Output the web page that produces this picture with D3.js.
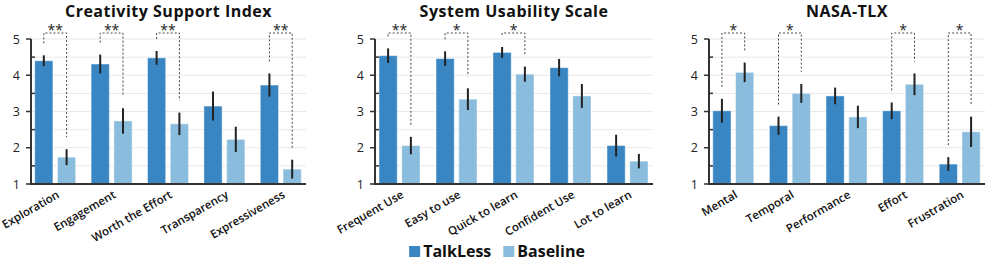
<!DOCTYPE html>
<html>
<head>
<meta charset="utf-8">
<script src="https://cdn.jsdelivr.net/npm/d3@7"></script>
<style>
  body { margin: 0; background: #fff; }
  text { font-family: "Open Sans", "Noto Sans", sans-serif; }
</style>
</head>
<body>
<script>
var
  series = ['TalkLess', 'Baseline'],
  colors = ['#3a86c3', '#8abcdd'],
  yTicks = [1, 2, 3, 4, 5],

  titles = ['Creativity Support Index', 'System Usability Scale', 'NASA-TLX'],

  csiCats = ['Exploration', 'Engagement', 'Worth the Effort', 'Transparency', 'Expressiveness'],
  csiTalk = [4.40, 4.31, 4.48, 3.15, 3.73],
  csiTalkErr = [0.15, 0.26, 0.19, 0.40, 0.32],
  csiBase = [1.74, 2.74, 2.66, 2.23, 1.41],
  csiBaseErr = [0.22, 0.35, 0.31, 0.35, 0.26],
  csiSig = ['**', '**', '**', '', '**'],

  susCats = ['Frequent Use', 'Easy to use', 'Quick to learn', 'Confident Use', 'Lot to learn'],
  susTalk = [4.54, 4.46, 4.63, 4.21, 2.06],
  susTalkErr = [0.20, 0.20, 0.15, 0.24, 0.30],
  susBase = [2.06, 3.34, 4.03, 3.43, 1.63],
  susBaseErr = [0.24, 0.30, 0.21, 0.33, 0.20],
  susSig = ['**', '*', '*', '', ''],

  tlxCats = ['Mental', 'Temporal', 'Performance', 'Effort', 'Frustration'],
  tlxTalk = [3.02, 2.61, 3.43, 3.02, 1.55],
  tlxTalkErr = [0.33, 0.25, 0.23, 0.23, 0.19],
  tlxBase = [4.08, 3.50, 2.85, 3.75, 2.44],
  tlxBaseErr = [0.27, 0.26, 0.31, 0.30, 0.42],
  tlxSig = ['*', '*', '', '*', '*'],

  panels = [
    { x0: 31, x1: 306, cats: csiCats, vals: [csiTalk, csiBase], errs: [csiTalkErr, csiBaseErr], sig: csiSig },
    { x0: 375, x1: 653, cats: susCats, vals: [susTalk, susBase], errs: [susTalkErr, susBaseErr], sig: susSig },
    { x0: 709, x1: 985, cats: tlxCats, vals: [tlxTalk, tlxBase], errs: [tlxTalkErr, tlxBaseErr], sig: tlxSig }
  ],

  config = {
    w: 996,
    h: 263,
    top: 39,
    bottom: 184,
    bracketY: 33,
    gap: 12
  },

  svg = d3.select('body').append('svg')
    .attr('width', config.w)
    .attr('height', config.h),

  y = d3.scaleLinear().domain([1, 5]).range([config.bottom, config.top]),

  drawPanel = function drawPanel(p, idx) {
    var
      g = svg.append('g'),
      x = d3.scaleBand().domain(p.cats).range([p.x0 - 4, p.x1 + 3]),
      sub = d3.scaleBand().domain(series).range([-20.5, 20.5]).paddingInner(0.2),
      halves = d3.range(1.5, 5.01, 0.5),
      rows = [];

    // grid every half point
    g.selectAll('line.grid').data(halves).enter().append('line')
      .attr('x1', p.x0).attr('x2', p.x1)
      .attr('y1', function (d) { return y(d); })
      .attr('y2', function (d) { return y(d); })
      .attr('stroke', '#e8e8e8').attr('stroke-width', 1);

    p.cats.forEach(function (c, i) {
      series.forEach(function (s, k) {
        rows.push({ cat: c, s: s, k: k, v: p.vals[k][i], e: p.errs[k][i] });
      });
    });

    g.selectAll('rect.bar').data(rows).enter().append('rect')
      .attr('x', function (d) { return x(d.cat) + x.bandwidth() / 2 + sub(d.s); })
      .attr('width', sub.bandwidth())
      .attr('y', function (d) { return y(d.v); })
      .attr('height', function (d) { return y(1) - y(d.v); })
      .attr('fill', function (d) { return colors[d.k]; })
      .attr('stroke', '#ffffff').attr('stroke-opacity', 0.45).attr('stroke-width', 1);

    g.selectAll('line.err').data(rows).enter().append('line')
      .attr('x1', function (d) { return x(d.cat) + x.bandwidth() / 2 + sub(d.s) + sub.bandwidth() / 2; })
      .attr('x2', function (d) { return x(d.cat) + x.bandwidth() / 2 + sub(d.s) + sub.bandwidth() / 2; })
      .attr('y1', function (d) { return y(d.v + d.e); })
      .attr('y2', function (d) { return y(d.v - d.e); })
      .attr('stroke', '#222').attr('stroke-width', 2);

    // significance brackets
    p.cats.forEach(function (c, i) {
      if (!p.sig[i]) return;
      var
        ca = x(c) + x.bandwidth() / 2 + sub(series[0]) + sub.bandwidth() / 2,
        cb = x(c) + x.bandwidth() / 2 + sub(series[1]) + sub.bandwidth() / 2,
        ya = y(p.vals[0][i] + p.errs[0][i]) - config.gap,
        yb = y(p.vals[1][i] + p.errs[1][i]) - config.gap;

      g.append('path')
        .attr('d', 'M' + ca + ',' + ya + 'V' + config.bracketY + 'H' + cb + 'V' + yb)
        .attr('fill', 'none')
        .attr('stroke', '#444')
        .attr('stroke-width', 1)
        .attr('stroke-dasharray', '2,2');

      g.append('text')
        .attr('x', (ca + cb) / 2)
        .attr('y', config.bracketY + 2)
        .attr('text-anchor', 'middle')
        .attr('font-size', 14)
        .attr('fill', '#222')
        .text(p.sig[i]);
    });

    // y axis: labels on whole points, ticks on halves
    g.append('line')
      .attr('x1', p.x0).attr('x2', p.x0)
      .attr('y1', y(5)).attr('y2', y(1))
      .attr('stroke', '#333').attr('stroke-width', 2);

    g.selectAll('line.tick').data(d3.range(1, 5.01, 0.5)).enter().append('line')
      .attr('x1', function (d) { return d % 1 === 0 ? p.x0 - 5 : p.x0; })
      .attr('x2', function (d) { return d % 1 === 0 ? p.x0 : p.x0 + 4; })
      .attr('y1', function (d) { return y(d); })
      .attr('y2', function (d) { return y(d); })
      .attr('stroke', '#333').attr('stroke-width', 1.5);

    g.selectAll('text.ylab').data(yTicks).enter().append('text')
      .attr('x', p.x0 - 11)
      .attr('y', function (d) { return y(d) + 4.5; })
      .attr('text-anchor', 'end')
      .attr('font-size', 12.5)
      .attr('fill', '#222')
      .text(function (d) { return d; });

    g.append('line')
      .attr('x1', p.x0 - 1).attr('x2', p.x1)
      .attr('y1', y(1)).attr('y2', y(1))
      .attr('stroke', '#333').attr('stroke-width', 2);

    g.selectAll('text.xlab').data(p.cats).enter().append('text')
      .attr('transform', function (d) {
        return 'translate(' + (x(d) + x.bandwidth() / 2 + 5) + ',' + 197 + ') rotate(-30)';
      })
      .attr('text-anchor', 'end')
      .attr('font-size', 11.5)
      .attr('font-weight', 600)
      .attr('fill', '#111')
      .text(function (d) { return d; });

    svg.append('text')
      .attr('x', (p.x0 + p.x1) / 2)
      .attr('y', 16.5)
      .attr('text-anchor', 'middle')
      .attr('font-size', 16)
      .attr('font-weight', 'bold')
      .attr('letter-spacing', 0.5)
      .attr('fill', '#111')
      .text(titles[idx]);
  },

  drawLegend = function drawLegend() {
    var
      lg = svg.append('g'),
      cx = (panels[1].x0 + panels[1].x1) / 2 - 17,
      items = [],
      pos = 0,
      total;

    series.forEach(function (s, k) {
      var it = lg.append('g');
      it.append('rect').attr('width', 11).attr('height', 11).attr('y', -11).attr('fill', colors[k]);
      var t = it.append('text')
        .attr('x', 14).attr('y', 0)
        .attr('font-size', 16)
        .attr('font-weight', 'bold')
        .attr('fill', '#111')
        .text(s);
      items.push({ g: it, w: 14 + t.node().getComputedTextLength() });
    });

    total = items[0].w + 12 + items[1].w;
    items.forEach(function (it) {
      it.g.attr('transform', 'translate(' + (cx - total / 2 + pos) + ',257)');
      pos += it.w + 12;
    });
  };

panels.forEach(drawPanel);
drawLegend();
</script>
</body>
</html>
